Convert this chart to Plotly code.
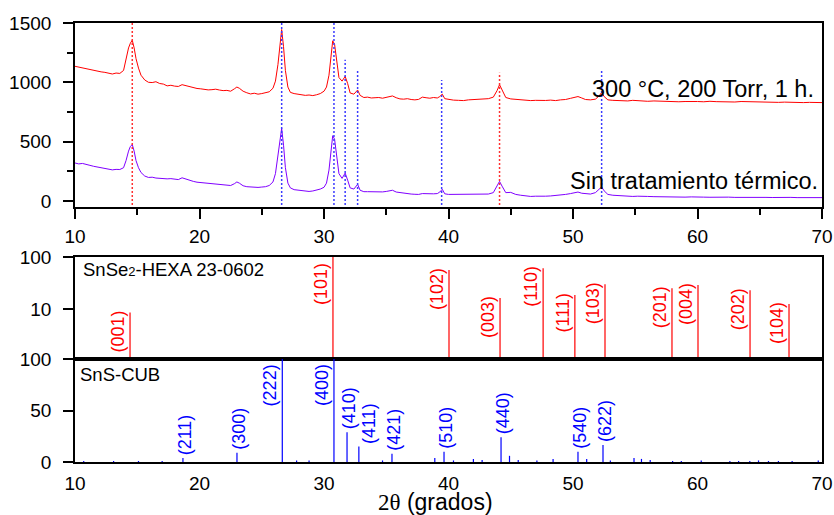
import math
import plotly.graph_objects as go

# ---------------- data ----------------
two_theta = [
    10.0, 10.3, 10.6, 10.9, 11.2, 11.5, 11.8, 12.1, 12.4, 12.7,
    13.0, 13.3, 13.6, 13.9, 14.1, 14.3, 14.45, 14.6, 14.75, 14.9,
    15.1, 15.3, 15.6, 15.9, 16.2, 16.5, 16.8, 17.1, 17.4, 17.7,
    18.0, 18.3, 18.6, 18.9, 19.2, 19.5, 19.8, 20.1, 20.4, 20.7,
    21.0, 21.3, 21.6, 21.9, 22.2, 22.5, 22.8, 23.0, 23.2, 23.5,
    23.8, 24.1, 24.4, 24.7, 25.0, 25.3, 25.6, 25.9, 26.1, 26.3,
    26.45, 26.6, 26.75, 26.9, 27.1, 27.3, 27.6, 27.9, 28.2, 28.5,
    28.8, 29.1, 29.4, 29.7, 30.0, 30.2, 30.4, 30.55, 30.7, 30.85,
    31.0, 31.2, 31.45, 31.7, 31.9, 32.1, 32.4, 32.7, 32.9, 33.2,
    33.5, 33.8, 34.1, 34.4, 34.7, 35.0, 35.3, 35.5, 35.8, 36.1,
    36.4, 36.7, 37.0, 37.3, 37.6, 37.9, 38.2, 38.5, 38.8, 39.1,
    39.3, 39.5, 39.7, 40.0, 40.4, 40.8, 41.2, 41.6, 42.0, 42.4,
    42.8, 43.2, 43.6, 43.9, 44.1, 44.3, 44.6, 45.0, 45.4, 45.8,
    46.2, 46.6, 47.0, 47.4, 47.8, 48.2, 48.6, 49.0, 49.4, 49.8,
    50.1, 50.4, 50.7, 51.0, 51.4, 51.8, 52.1, 52.3, 52.5, 52.8,
    53.2, 53.6, 54.0, 54.4, 54.8, 55.2, 55.6, 56.0, 56.5, 57.0,
    57.5, 58.0, 58.5, 59.0, 59.5, 60.0, 60.5, 61.0, 61.5, 62.0,
    62.5, 63.0, 63.5, 64.0, 64.5, 65.0, 65.5, 66.0, 66.5, 67.0,
    67.5, 68.0, 68.5, 69.0, 69.5, 70.0,
]

int_300C = [
    1135, 1128, 1120, 1112, 1110, 1098, 1093, 1088, 1084, 1079,
    1070, 1078, 1075, 1100, 1200, 1290, 1330, 1355, 1290, 1200,
    1120, 1060, 1020, 1000, 998, 1005, 990, 985, 970, 975,
    968, 965, 980, 972, 958, 955, 948, 945, 940, 936,
    938, 942, 935, 930, 932, 925, 945, 960, 950, 925,
    912, 902, 908, 900, 905, 910, 920, 950, 1010, 1150,
    1330, 1445, 1300, 1100, 960, 915, 905, 900, 895, 890,
    893, 888, 895, 905, 925, 960, 1060, 1220, 1350, 1320,
    1180, 1040, 1010, 1050, 990, 910, 900, 935, 890, 872,
    875, 868, 870, 872, 866, 872, 882, 885, 870, 860,
    858, 862, 855, 852, 856, 875, 870, 866, 872, 868,
    880, 900, 862, 855, 850, 848, 846, 852, 855, 858,
    860, 862, 875, 930, 980, 935, 872, 860, 856, 852,
    850, 846, 848, 845, 847, 850, 846, 852, 855, 865,
    875, 880, 868, 855, 852, 858, 885, 915, 880, 852,
    848, 846, 845, 843, 848, 845, 842, 840, 843, 840,
    838, 840, 836, 838, 835, 838, 836, 840, 837, 835,
    836, 834, 838, 836, 840, 835, 832, 834, 831, 833,
    830, 832, 829, 831, 828, 829,
]

int_sin = [
    320, 312, 316, 305, 300, 292, 286, 279, 274, 268,
    262, 266, 265, 280, 340, 420, 460, 475, 420, 340,
    280, 240, 210, 198, 200, 193, 190, 192, 186, 188,
    183, 180, 195, 185, 170, 165, 158, 155, 150, 148,
    145, 140, 138, 136, 133, 130, 145, 160, 150, 128,
    120, 116, 118, 114, 117, 120, 130, 160, 230, 380,
    520, 612, 470, 280, 150, 110, 95, 90, 85, 82,
    80, 84, 90, 100, 115, 150, 260, 420, 550, 520,
    380, 230, 190, 235, 175, 110, 100, 140, 90, 78,
    78, 76, 77, 74, 76, 80, 88, 90, 75, 70,
    64, 62, 58, 56, 55, 62, 60, 56, 60, 62,
    75, 98, 60, 55, 55, 53, 53, 54, 56, 55,
    56, 58, 70, 130, 165, 125, 70, 72, 55, 48,
    42, 38, 40, 37, 40, 42, 45, 50, 55, 62,
    68, 75, 65, 60, 58, 70, 100, 118, 85, 55,
    48, 45, 42, 40, 38, 40, 42, 38, 36, 34,
    34, 35, 33, 32, 34, 36, 32, 31, 33, 30,
    32, 30, 31, 29, 34, 32, 30, 29, 31, 29,
    30, 28, 29, 30, 27, 28,
]

# dotted guide lines in the top panel
guide_hexa_pos = [14.6, 44.1]
guide_hexa_top = [1500, 1080]
guide_cub_pos = [26.6, 30.8, 31.7, 32.7, 39.45, 52.3]
guide_cub_top = [1530, 1500, 1190, 1096, 1020, 1096]
guide_bottom = -34

# SnSe2 hexagonal card 23-0602
hexa_pos = [14.42, 30.72, 40.04, 44.14, 47.6, 50.15, 52.57, 57.95, 60.04, 64.22, 67.35]
hexa_int = [8.6, 100, 56, 16.3, 61, 18.6, 30, 25, 29, 23, 12.5]
hexa_hkl = ["(001)", "(101)", "(102)", "(003)", "(110)", "(111)", "(103)",
            "(201)", "(004)", "(202)", "(104)"]

# SnS cubic card
cub_pos = [18.67, 23.01, 26.65, 30.8, 31.85, 32.8, 35.46, 39.64, 44.22, 50.4, 52.41]
cub_int = [4, 9, 100, 100, 29, 15, 8, 10, 24, 10, 16.5]
cub_hkl = ["(211)", "(300)", "(222)", "(400)", "(410)", "(411)", "(421)",
           "(510)", "(440)", "(540)", "(622)"]
cub_minor_pos = [10.7, 13.1, 15.1, 17.0, 27.8, 28.8, 34.7, 38.9, 40.4, 42.0,
                 42.7, 44.9, 45.6, 47.1, 48.4, 51.1, 53.0, 54.9, 55.5, 56.2,
                 58.0, 58.7, 60.3, 62.6, 63.3, 64.2, 64.9, 65.7, 66.5, 67.6, 69.7]
cub_minor_int = [1, 1, 1, 1, 1.5, 1.5, 1.5, 4, 1.5, 3,
                 2, 6, 2, 1.5, 3, 3, 1.5, 4, 3, 2,
                 1, 1, 1.5, 1, 1, 1, 1.5, 1, 1, 1, 1.5]

label_300C = "300 °C, 200 Torr, 1 h."
label_sin = "Sin tratamiento térmico."
card_hexa = 'SnSe<span style="font-size:13px">2</span>-HEXA 23-0602'
card_cub = "SnS-CUB"
x_title = '<span style="font-family:Liberation Serif">2θ</span> (grados)'

# ---------------- styling ----------------
RED = "#ff0000"
BLUE = "#0000ff"
PURPLE = "#8000ff"
FONT = "Liberation Sans, Arial, sans-serif"


def sticks(pos, height, base):
    xs, ys = [], []
    for p, h in zip(pos, height):
        xs += [p, p, None]
        ys += [base, h, None]
    return xs, ys


fig = go.Figure()

# top panel curves
fig.add_trace(go.Scatter(x=two_theta, y=int_sin, mode="lines",
                         line=dict(color=PURPLE, width=1), xaxis="x", yaxis="y"))
fig.add_trace(go.Scatter(x=two_theta, y=int_300C, mode="lines",
                         line=dict(color=RED, width=1), xaxis="x", yaxis="y"))

# guide lines
gx, gy = sticks(guide_hexa_pos, guide_hexa_top, guide_bottom)
fig.add_trace(go.Scatter(x=gx, y=gy, mode="lines",
                         line=dict(color="#ff3030", width=1.5, dash="2px,2px"),
                         xaxis="x", yaxis="y"))
gx, gy = sticks(guide_cub_pos, guide_cub_top, guide_bottom)
fig.add_trace(go.Scatter(x=gx, y=gy, mode="lines",
                         line=dict(color="#3a3aff", width=1.5, dash="2px,2px"),
                         xaxis="x", yaxis="y"))

# middle panel: hexagonal sticks (log)
sx, sy = sticks(hexa_pos, hexa_int, 0.5)
fig.add_trace(go.Scatter(x=sx, y=sy, mode="lines", line=dict(color=RED, width=1.2),
                         xaxis="x2", yaxis="y2"))

# bottom panel: cubic sticks
sx, sy = sticks(cub_pos, cub_int, 0)
fig.add_trace(go.Scatter(x=sx, y=sy, mode="lines", line=dict(color=BLUE, width=1.2),
                         xaxis="x3", yaxis="y3"))
sx, sy = sticks(cub_minor_pos, cub_minor_int, 0)
fig.add_trace(go.Scatter(x=sx, y=sy, mode="lines", line=dict(color=BLUE, width=1.2),
                         xaxis="x3", yaxis="y3"))

annotations = []
for p, h, t in zip(hexa_pos, hexa_int, hexa_hkl):
    annotations.append(dict(x=p, y=math.log10(min(h, 70)), xref="x2", yref="y2",
                            text=t, textangle=-90, showarrow=False,
                            xanchor="right", yanchor="top", yshift=4,
                            font=dict(color=RED, size=18, family=FONT)))
for p, h, t in zip(cub_pos, cub_int, cub_hkl):
    if h >= 90:
        annotations.append(dict(x=p, y=97, xref="x3", yref="y3", text=t,
                                textangle=-90, showarrow=False,
                                xanchor="right", yanchor="top",
                                font=dict(color=BLUE, size=18, family=FONT)))
    else:
        shift = 10 if t == "(411)" else 2
        annotations.append(dict(x=p, y=h, xref="x3", yref="y3", text=t,
                                textangle=-90, showarrow=False,
                                xanchor="center", yanchor="bottom",
                                xshift=shift, yshift=1,
                                font=dict(color=BLUE, size=18, family=FONT)))

annotations += [
    dict(x=69.5, y=944, xref="x", yref="y", text=label_300C, showarrow=False,
         xanchor="right", yanchor="middle", font=dict(size=23.5, color="black", family=FONT)),
    dict(x=69.8, y=169, xref="x", yref="y", text=label_sin, showarrow=False,
         xanchor="right", yanchor="middle", font=dict(size=23.5, color="black", family=FONT)),
    dict(x=0.008, y=0.873, xref="x2 domain", yref="y2 domain", text=card_hexa,
         showarrow=False, xanchor="left", yanchor="middle",
         font=dict(size=18.5, color="black", family=FONT)),
    dict(x=0.004, y=0.845, xref="x3 domain", yref="y3 domain", text=card_cub,
         showarrow=False, xanchor="left", yanchor="middle",
         font=dict(size=18.5, color="black", family=FONT)),
    dict(x=10 + (435 - 75) / 747 * 60, y=-0.091, xref="x", yref="paper", text=x_title,
         showarrow=False, xanchor="center", yanchor="middle",
         font=dict(size=23, color="black", family=FONT)),
]

axis_common = dict(showline=True, mirror=True, linecolor="black", linewidth=1.6,
                   showgrid=False, zeroline=False, tickcolor="black", tickwidth=1.6,
                   automargin=False,
                   tickfont=dict(size=19, color="black", family=FONT))

fig.update_layout(
    width=834, height=515,
    margin=dict(l=75, r=12, t=23, b=53, pad=0, autoexpand=False),
    paper_bgcolor="white", plot_bgcolor="white",
    showlegend=False,
    font=dict(family=FONT, color="black"),
    annotations=annotations,
    xaxis=dict(domain=[0, 1], anchor="y", range=[10, 70], tickmode="linear", tick0=10,
               dtick=10, ticks="outside", ticklen=10, ticklabelstandoff=1,
               minor=dict(dtick=5, ticks="outside", ticklen=6, tickcolor="black",
                          tickwidth=1.6, showgrid=False),
               **axis_common),
    yaxis=dict(domain=[0.5809, 1], anchor="x", range=[-51, 1500], tickmode="linear",
               tick0=0, dtick=500, ticks="outside", ticklen=10, ticklabelstandoff=8,
               minor=dict(dtick=250, ticks="outside", ticklen=6, tickcolor="black",
                          tickwidth=1.6, showgrid=False),
               **axis_common),
    xaxis2=dict(domain=[0, 1], anchor="y2", range=[10, 70], ticks="",
                showticklabels=False, **axis_common),
    yaxis2=dict(domain=[0.2346, 0.4670], anchor="x2", type="log", range=[0.04, 2],
                tickmode="array", tickvals=[10, 100], ticktext=["10", "100"],
                ticks="outside", ticklen=10, ticklabelstandoff=8, **axis_common),
    xaxis3=dict(domain=[0, 1], anchor="y3", range=[10, 70], tickmode="linear", tick0=10,
                dtick=10, ticks="", ticklabelstandoff=3, **axis_common),
    yaxis3=dict(domain=[0, 0.2346], anchor="x3", range=[0, 100], tickmode="array",
                tickvals=[0, 50, 100], ticks="outside", ticklen=10, ticklabelstandoff=8,
                **axis_common),
)

fig.write_html("out.html")
